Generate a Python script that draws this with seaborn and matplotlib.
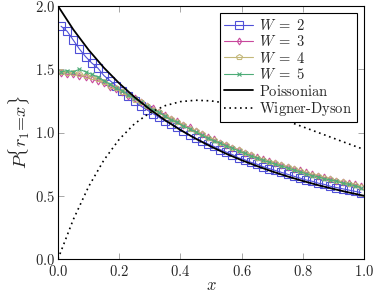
import numpy as np
import pandas as pd
import matplotlib
matplotlib.use("Agg")
import matplotlib.pyplot as plt
import seaborn as sns

# bin centres of the measured histograms
x_bins = [0.01, 0.03, 0.05, 0.07, 0.09, 0.11, 0.13, 0.15, 0.17, 0.19,
          0.21, 0.23, 0.25, 0.27, 0.29, 0.31, 0.33, 0.35, 0.37, 0.39,
          0.41, 0.43, 0.45, 0.47, 0.49, 0.51, 0.53, 0.55, 0.57, 0.59,
          0.61, 0.63, 0.65, 0.67, 0.69, 0.71, 0.73, 0.75, 0.77, 0.79,
          0.81, 0.83, 0.85, 0.87, 0.89, 0.91, 0.93, 0.95, 0.97, 0.99]

w2 = [1.84, 1.80, 1.73, 1.66, 1.60, 1.55, 1.51, 1.45, 1.41, 1.37,
      1.33, 1.29, 1.25, 1.21, 1.18, 1.15, 1.12, 1.09, 1.07, 1.04,
      1.01, 0.98, 0.955, 0.93, 0.91, 0.89, 0.865, 0.845, 0.825, 0.80,
      0.785, 0.765, 0.75, 0.73, 0.715, 0.70, 0.685, 0.67, 0.655, 0.64,
      0.625, 0.615, 0.60, 0.59, 0.575, 0.565, 0.555, 0.545, 0.535, 0.525]

w3 = [1.47, 1.46, 1.46, 1.45, 1.44, 1.42, 1.41, 1.39, 1.36, 1.34,
      1.32, 1.29, 1.27, 1.24, 1.21, 1.19, 1.16, 1.14, 1.11, 1.09,
      1.06, 1.04, 1.01, 0.99, 0.965, 0.945, 0.92, 0.905, 0.88, 0.865,
      0.84, 0.825, 0.805, 0.79, 0.775, 0.76, 0.745, 0.73, 0.715, 0.70,
      0.685, 0.67, 0.66, 0.645, 0.635, 0.62, 0.61, 0.60, 0.59, 0.575]

w4 = [1.48, 1.47, 1.47, 1.46, 1.45, 1.44, 1.42, 1.40, 1.37, 1.35,
      1.32, 1.30, 1.26, 1.24, 1.21, 1.18, 1.16, 1.13, 1.11, 1.08,
      1.06, 1.03, 1.01, 0.985, 0.96, 0.94, 0.915, 0.90, 0.875, 0.86,
      0.84, 0.82, 0.80, 0.785, 0.77, 0.755, 0.74, 0.725, 0.71, 0.695,
      0.68, 0.665, 0.655, 0.64, 0.63, 0.615, 0.605, 0.595, 0.585, 0.57]

w5 = [1.48, 1.49, 1.48, 1.50, 1.48, 1.46, 1.44, 1.41, 1.38, 1.35,
      1.33, 1.30, 1.27, 1.24, 1.21, 1.18, 1.16, 1.13, 1.10, 1.08,
      1.05, 1.03, 1.005, 0.98, 0.955, 0.935, 0.915, 0.895, 0.875, 0.855,
      0.835, 0.815, 0.80, 0.78, 0.765, 0.75, 0.735, 0.72, 0.705, 0.69,
      0.675, 0.66, 0.65, 0.635, 0.625, 0.615, 0.60, 0.59, 0.58, 0.565]

# reference curves
x_ref = [0.00, 0.05, 0.10, 0.15, 0.20, 0.25, 0.30, 0.35, 0.40, 0.45, 0.50,
         0.55, 0.60, 0.65, 0.70, 0.75, 0.80, 0.85, 0.90, 0.95, 1.00]
poisson = [2.000, 1.814, 1.653, 1.512, 1.389, 1.280, 1.183, 1.097, 1.020, 0.951, 0.889,
           0.832, 0.781, 0.735, 0.692, 0.653, 0.617, 0.584, 0.554, 0.526, 0.500]
wigner = [0.000, 0.312, 0.572, 0.782, 0.946, 1.069, 1.156, 1.212, 1.244, 1.255, 1.250,
          1.232, 1.205, 1.171, 1.132, 1.089, 1.045, 1.000, 0.955, 0.910, 0.866]

series_names = ["W2", "W3", "W4", "W5"]
series_labels = [r"$W\;=\;2$", r"$W\;=\;3$", r"$W\;=\;4$", r"$W\;=\;5$"]
series_colors = ["#5050d8", "#c8489c", "#c4b87a", "#4eac78"]
series_markers = ["s", "d", "p", "x"]
series_sizes = [5.5, 3.5, 4.0, 3.5]

sns.set_style("ticks")
plt.rcParams["mathtext.fontset"] = "cm"
plt.rcParams["font.family"] = ["DejaVu Serif"]

fig = plt.figure(figsize=(3.74, 2.94), dpi=100)
ax = fig.add_axes([58 / 374, 1 - 259 / 294, 306 / 374, 253 / 294])

df = pd.DataFrame({"x": x_bins, "W2": w2, "W3": w3, "W4": w4, "W5": w5})
long = df.melt(id_vars="x", var_name="W", value_name="p")

palette = dict(zip(series_names, series_colors))
sns.lineplot(data=long, x="x", y="p", hue="W", palette=palette, ax=ax,
             linewidth=0.8, legend=False)

# style each measured series (markers differ per W)
handles = []
for ln, lab, col, mk, ms in zip(ax.lines[:4], series_labels, series_colors,
                                series_markers, series_sizes):
    ln.set_color(col)
    ln.set_marker(mk)
    ln.set_markersize(ms)
    ln.set_markerfacecolor("none")
    ln.set_markeredgecolor(col)
    ln.set_markeredgewidth(0.8)
    ln.set_label(lab)
    handles.append(ln)

ref = pd.DataFrame({"x": x_ref, "poisson": poisson, "wigner": wigner})
sns.lineplot(data=ref, x="x", y="poisson", ax=ax, color="black",
             linewidth=1.3, legend=False)
ax.lines[-1].set_label(r"$\mathrm{Poissonian}$")
handles.append(ax.lines[-1])
sns.lineplot(data=ref, x="x", y="wigner", ax=ax, color="black",
             linewidth=1.2, linestyle=(0, (1, 2.2)), legend=False)
ax.lines[-1].set_label(r"$\mathrm{Wigner\text{-}Dyson}$")
handles.append(ax.lines[-1])

ax.set_xlim(0, 1)
ax.set_ylim(0, 2)
xt = [0.0, 0.2, 0.4, 0.6, 0.8, 1.0]
yt = [0.0, 0.5, 1.0, 1.5, 2.0]
ax.set_xticks(xt)
ax.set_yticks(yt)
ax.set_xticklabels([rf"${v:.1f}$" for v in xt], fontsize=10.5)
ax.set_yticklabels([rf"${v:.1f}$" for v in yt], fontsize=10.5)
ax.tick_params(direction="in", length=4, width=0.6, color="#999999",
               top=True, right=True)
ax.tick_params(axis="x", pad=3.5)
ax.tick_params(axis="y", pad=2)
for s in ax.spines.values():
    s.set_linewidth(0.8)
    s.set_color("black")

ax.set_xlabel(r"$x$", fontsize=12, labelpad=-1.5)
ax.set_ylabel(r"$P\{r_1\!=\!x\}$", fontsize=13, labelpad=2)

leg = ax.legend(handles=handles, loc="upper right", fontsize=10.5, frameon=True,
                fancybox=False, edgecolor="black", framealpha=1,
                handlelength=2.0, handletextpad=0.4, borderpad=0.3,
                labelspacing=0.1, borderaxespad=0.5)
leg.get_frame().set_linewidth(0.8)

fig.savefig("out.png", dpi=100)
